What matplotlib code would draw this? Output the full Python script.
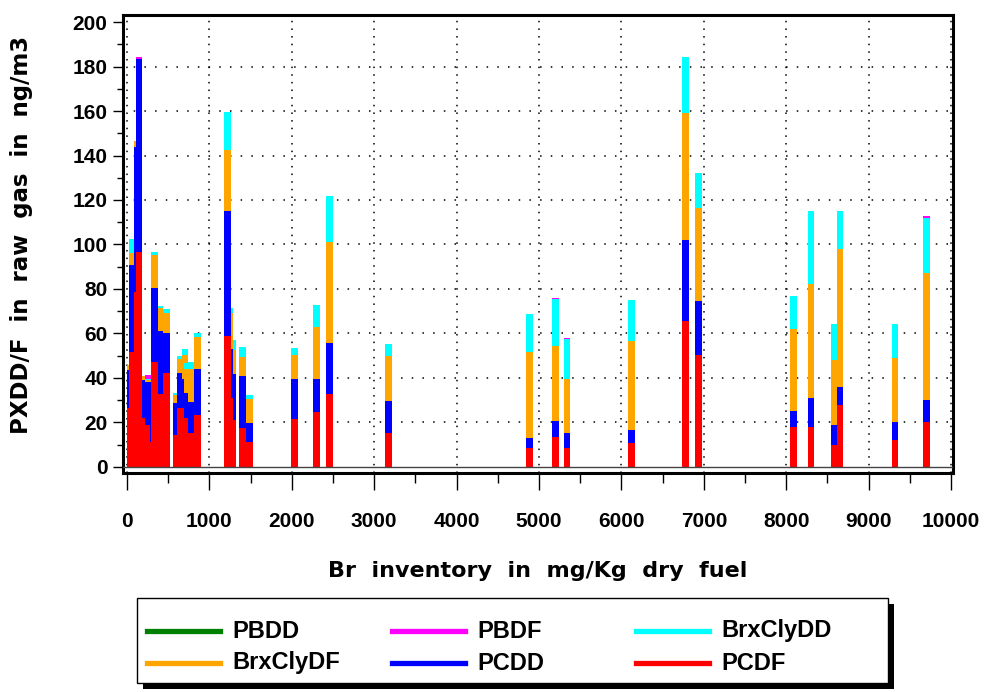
import numpy as np
import matplotlib
matplotlib.use('Agg')
import matplotlib.pyplot as plt
from matplotlib.patches import Rectangle
from matplotlib.lines import Line2D

plt.rcParams['font.family'] = ['Liberation Sans', 'DejaVu Sans']
plt.rcParams['font.weight'] = 'bold'

# Br inventory (mg/kg dry fuel), listed in drawing order (later bars cover earlier ones)
br = [36, 68, 129, 145, 226, 255, 315, 396, 335, 477,
      602, 650, 704, 736, 784, 862, 857,
      1283, 1243, 1218, 1405, 1485,
      2030, 2302, 2455, 3171, 4883, 5203, 5340, 6120,
      6776, 6934, 8090, 8300, 8580, 8650, 9320, 9700]

pcdf = [26.5, 51.4, 78.7, 96.4, 22.0, 18.8, 11.3, 32.7, 47.2, 42.3,
        14.2, 26.5, 26.5, 21.8, 15.3, 13.0, 23.5,
        21.0, 31.0, 58.9, 17.6, 11.3,
        21.3, 24.7, 32.8, 15.3, 8.4, 13.5, 8.4, 10.5,
        65.5, 50.4, 18, 18, 10, 28, 12, 20]
pcdd = [17.0, 39.3, 65.2, 87.0, 17.0, 19.2, 12.8, 28.5, 33.0, 18.0,
        14.6, 15.8, 13.2, 11.2, 13.7, 17.0, 20.3,
        20.8, 21.8, 56.1, 23.4, 8.5,
        18.0, 14.6, 22.7, 14.1, 4.6, 7.1, 6.9, 6.0,
        36.3, 24.0, 7, 13, 9, 8, 8, 10]
brxcly_df = [2.2, 5.3, 2.7, 0, 1.8, 1.2, 0, 10.0, 15.0, 9.0,
             3.4, 6.4, 10.5, 11.2, 15.2, 3.0, 14.7,
             10.7, 16.2, 27.4, 8.2, 10.7,
             10.9, 23.4, 45.7, 20.4, 38.6, 33.8, 24.0, 40.0,
             57.1, 42.1, 37, 51, 29, 62, 29, 57]
brxcly_dd = [0, 6.3, 0, 0, 0, 0.3, 0, 1.1, 1.2, 1.5,
             1.2, 1.1, 2.6, 2.6, 2.8, 1.0, 1.8,
             4.5, 2.2, 17.0, 4.5, 1.7,
             3.0, 9.9, 20.5, 5.2, 16.9, 20.9, 18.1, 18.5,
             25.2, 15.6, 15, 33, 16, 17, 15, 25]
pbdf = [0, 0, 0, 0.8, 0, 1.7, 0, 0, 0, 0,
        0, 0, 0, 0, 0, 0, 0,
        0, 0, 0, 0, 0,
        0, 0, 0, 0, 0, 0.7, 0.6, 0,
        0, 0, 0, 0, 0, 0, 0, 0.7]
pbdd = [0] * len(br)

names = ['PCDF', 'PCDD', 'BrxClyDF', 'BrxClyDD', 'PBDF', 'PBDD']
values = [pcdf, pcdd, brxcly_df, brxcly_dd, pbdf, pbdd]
colors = ['#ff0000', '#0000ff', '#ffa500', '#00ffff', '#ff00ff', '#008000']

fig = plt.figure(figsize=(9.85, 6.92), dpi=100)
ax = fig.add_axes([122.7/985, 1-473/692, 830/985, 458/692])

# bars drawn one at a time, stacked
for i in range(len(br)):
    b = 0
    for vals, col in zip(values, colors):
        if vals[i] > 0:
            ax.bar(br[i], vals[i], width=80, bottom=b, color=col, linewidth=0, zorder=2)
        b += vals[i]

ax.axhline(0, color='#444444', lw=1, zorder=3)

ax.set_xlim(-52, 10020)
ax.set_ylim(-2.8, 203.2)
ax.set_xticks(range(0, 10001, 1000))
ax.set_xticks(range(500, 10000, 1000), minor=True)
ax.set_yticks(range(0, 201, 20))
ax.set_yticks(range(10, 200, 20), minor=True)

for y in range(20, 200, 20):
    ax.axhline(y, color='black', lw=1.1, linestyle=(0, (1, 6)), zorder=1)
for x in range(0, 10001, 1000):
    ax.axvline(x, color='black', lw=1.1, linestyle=(0, (1, 4)), zorder=1)

for s in ax.spines.values():
    s.set_linewidth(2.2)

ax.tick_params(axis='both', which='major', direction='out', width=1, labelsize=15)
ax.tick_params(axis='y', which='major', length=7, pad=4)
ax.tick_params(axis='y', which='minor', length=4, width=1)
ax.tick_params(axis='x', which='major', length=12, pad=16)
ax.tick_params(axis='x', which='minor', length=7, width=1)

lab_font = ['DejaVu Sans']
fig.text(538/985, 1-571/692, 'Br  inventory  in  mg/Kg  dry  fuel', ha='center', va='center',
         fontsize=16, fontweight='bold', family=lab_font)
fig.text(22/985, 1-235/692, 'PXDD/F  in  raw  gas  in  ng/m3', ha='center', va='center',
         rotation=90, fontsize=16.5, fontweight='bold', family=lab_font)

# legend box with black drop shadow
W, H = 985, 692
fig.patches.append(Rectangle((143/W, 1-689/H), 751/W, 85/H, transform=fig.transFigure,
                             facecolor='black', edgecolor='none'))
fig.patches.append(Rectangle((137/W, 1-683/H), 751/W, 85/H, transform=fig.transFigure,
                             facecolor='white', edgecolor='black', linewidth=1))
leg_rows = [['PBDD', 'PBDF', 'BrxClyDD'], ['BrxClyDF', 'PCDD', 'PCDF']]
col_x = [147, 392, 636]
row_y = [631, 663]
for r, row in enumerate(leg_rows):
    for c, name in enumerate(row):
        col = colors[names.index(name)]
        x0 = col_x[c]
        y0 = 1 - row_y[r]/H
        fig.lines.append(Line2D([x0/W, (x0+73)/W], [y0, y0], transform=fig.transFigure,
                                color=col, linewidth=3.8))
        fig.text((x0+85)/W, y0, name, ha='left', va='center', fontsize=17, fontweight='bold')

fig.savefig('out.png', dpi=100)
